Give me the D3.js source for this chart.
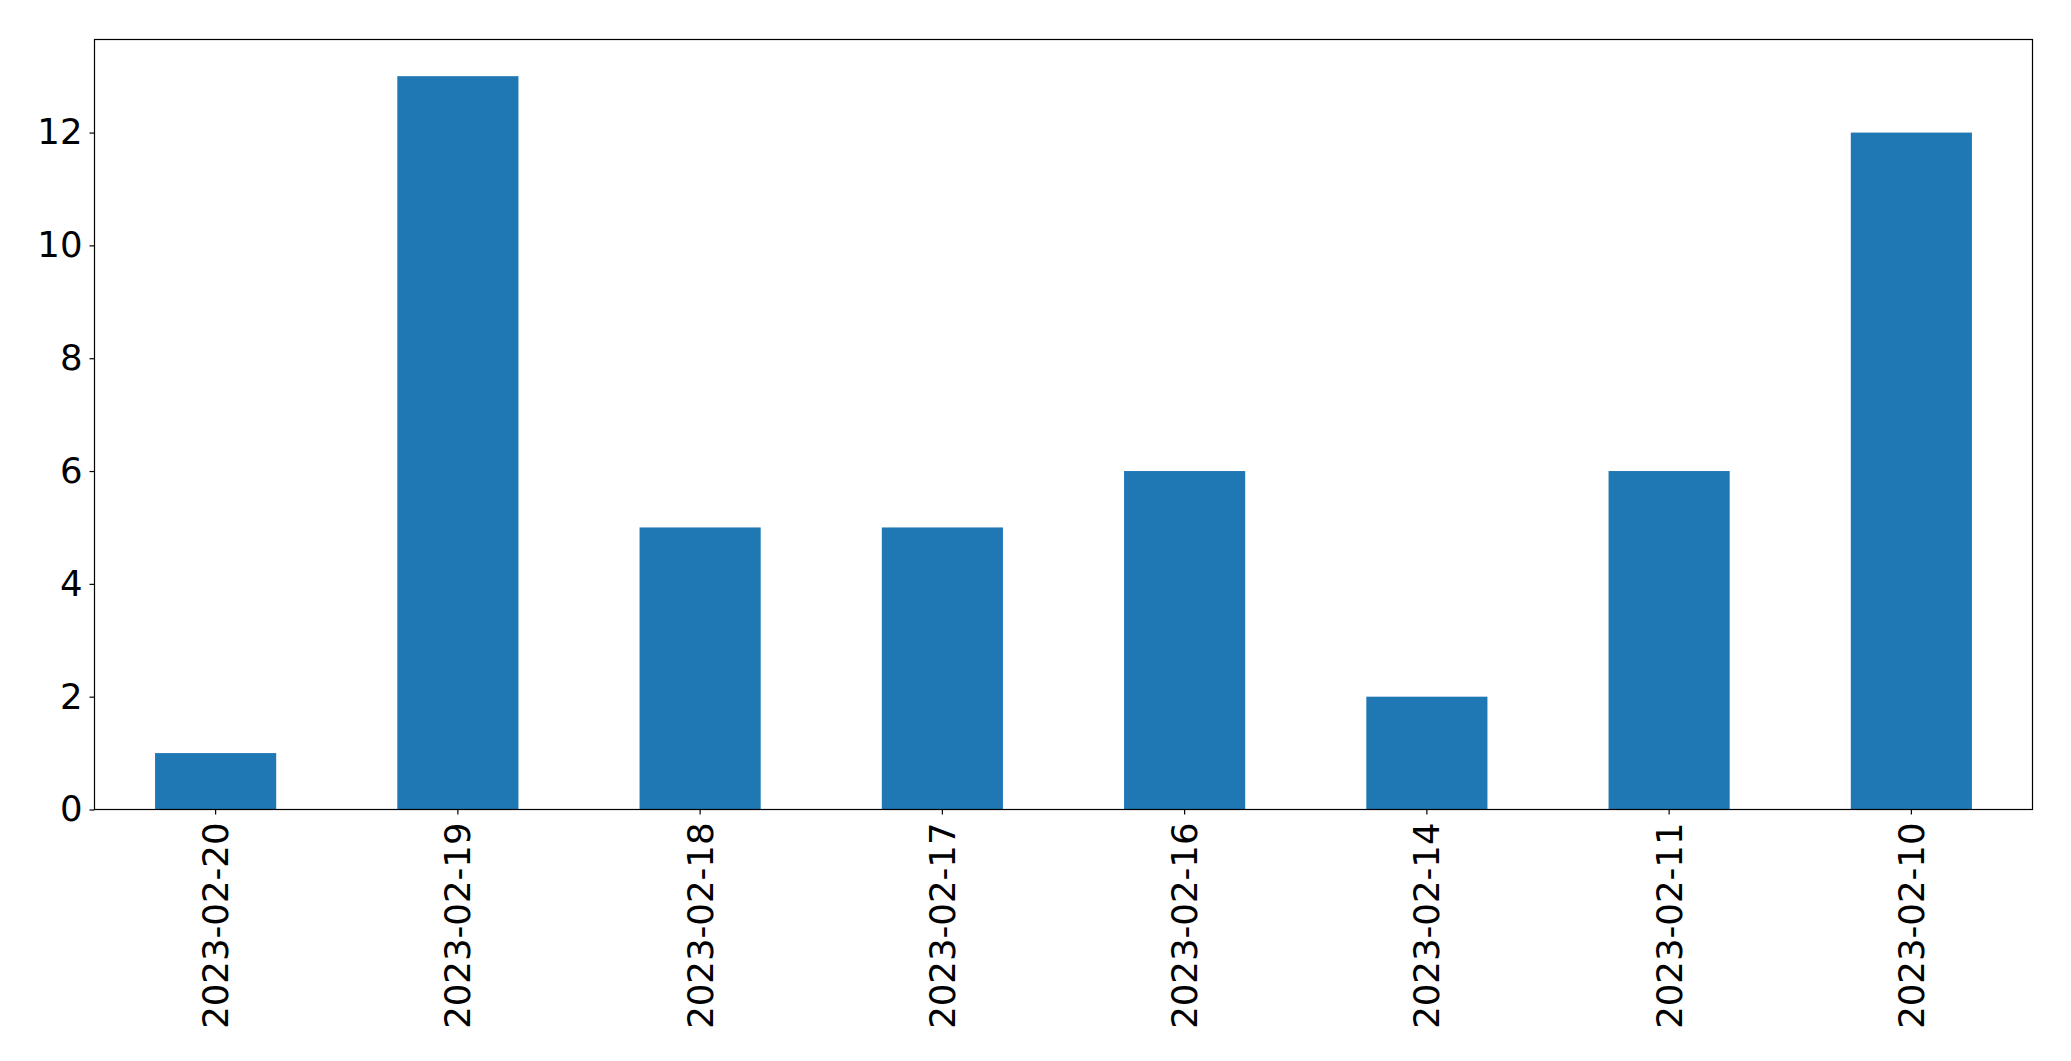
<!DOCTYPE html>
<html><head><meta charset="utf-8">
<script src="https://cdn.jsdelivr.net/npm/d3@7"></script>
<style>html,body{margin:0;padding:0;background:#fff;}svg{display:block;}</style>
</head><body>
<script>
const categories = ["2023-02-20","2023-02-19","2023-02-18","2023-02-17","2023-02-16","2023-02-14","2023-02-11","2023-02-10"];
const values = [1, 13, 5, 5, 6, 2, 6, 12];
const yTicks = [0, 2, 4, 6, 8, 10, 12];

const W = 2071, H = 1061;
const L = 94.5, R = 2032.5, T = 39.5, B = 809.5;
const svg = d3.select("body").append("svg").attr("width", W).attr("height", H);

const x = d3.scaleBand().domain(categories).range([L, R]).paddingInner(0.5).paddingOuter(0.25);
const yMax = d3.max(values) * 1.05;
const y = d3.scaleLinear().domain([0, yMax]).range([B, T]);

svg.append("g").selectAll("rect").data(values).join("rect")
  .attr("x", (d, i) => x(categories[i]))
  .attr("y", d => y(d))
  .attr("width", x.bandwidth())
  .attr("height", d => y(0) - y(d))
  .attr("fill", "#1f77b4");

const font = "DejaVu Sans, sans-serif";
const fs = 35.5;

const yAxis = svg.append("g").attr("transform", `translate(${L},0)`)
  .call(d3.axisLeft(y).tickValues(yTicks).tickSize(5).tickPadding(7).tickFormat(d3.format("d")));
yAxis.select(".domain").remove();
yAxis.selectAll("text").attr("font-family", font).attr("font-size", fs).attr("fill", "#000");
yAxis.selectAll("line").attr("stroke", "#000").attr("stroke-width", 1.2);

const xAxis = svg.append("g").attr("transform", `translate(0,${B})`)
  .call(d3.axisBottom(x).tickSize(5).tickPadding(0));
xAxis.select(".domain").remove();
xAxis.selectAll("line").attr("stroke", "#000").attr("stroke-width", 1.2);
xAxis.selectAll("text")
  .attr("font-family", font).attr("font-size", fs).attr("fill", "#000")
  .attr("text-anchor", "end")
  .attr("dy", null)
  .attr("transform", "translate(0,13) rotate(-90)")
  .attr("x", 0).attr("y", 0)
  .attr("dominant-baseline", "central");

svg.append("rect").attr("x", L).attr("y", T).attr("width", R - L).attr("height", B - T)
  .attr("fill", "none").attr("stroke", "#000").attr("stroke-width", 1.2);
</script>
</body></html>
